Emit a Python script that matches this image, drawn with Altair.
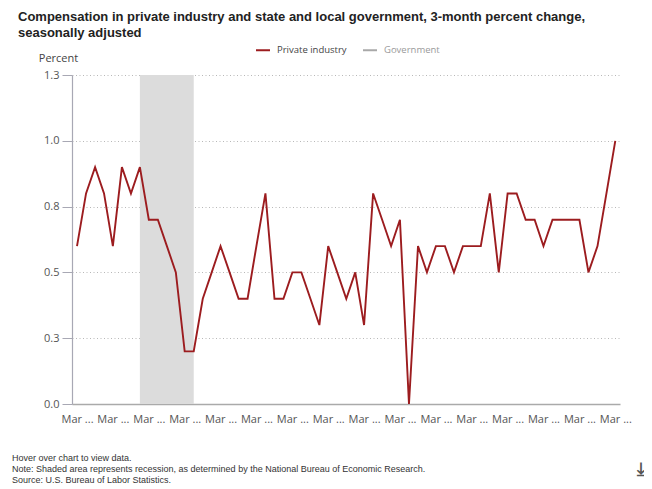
import altair as alt
import pandas as pd

# ---- data ---------------------------------------------------------------
years = list(range(2006, 2022))
quarter_months = ["03", "06", "09", "12"]
periods = [f"{y}-{m}-01" for y in years for m in quarter_months][:61]

private_industry = [
    0.6, 0.8, 0.9, 0.8, 0.6, 0.9, 0.8, 0.9, 0.7, 0.7,
    0.6, 0.5, 0.2, 0.2, 0.4, 0.5, 0.6, 0.5, 0.4, 0.4,
    0.6, 0.8, 0.4, 0.4, 0.5, 0.5, 0.4, 0.3, 0.6, 0.5,
    0.4, 0.5, 0.3, 0.8, 0.7, 0.6, 0.7, 0.0, 0.6, 0.5,
    0.6, 0.6, 0.5, 0.6, 0.6, 0.6, 0.8, 0.5, 0.8, 0.8,
    0.7, 0.7, 0.6, 0.7, 0.7, 0.7, 0.7, 0.5, 0.6, 0.8,
    1.0,
]
series_names = ["Private industry", "Government"]
series_colors = ["#9c1c1f", "#a8a8a8"]

recession_start = ["2007-12-01"]
recession_end = ["2009-06-01"]

y_ticks = [0, 0.25, 0.5, 0.75, 1.0, 1.25]
label_years = list(range(2006, 2022))

title_lines = [
    "Compensation in private industry and state and local government, 3-month percent change,",
    "seasonally adjusted",
]
footer_lines = [
    "Hover over chart to view data.",
    "Note: Shaded area represents recession, as determined by the National Bureau of Economic Research.",
    "Source: U.S. Bureau of Labor Statistics.",
]

# ---- tables -------------------------------------------------------------
df = pd.DataFrame({
    "date": periods,
    "value": private_industry,
    "series": ["Private industry"] * len(periods),
})
rec = pd.DataFrame({"start": recession_start, "end": recession_end})
one = pd.DataFrame({"k": [0]})

W, H = 548, 329
FONT = "Open Sans"

x_scale = alt.Scale(
    type="utc",
    domain=[
        alt.DateTime(year=2006, month=1, date=9, utc=True),
        alt.DateTime(year=2021, month=4, date=18, utc=True),
    ],
)

x_axis = alt.Axis(
    values=[alt.DateTime(year=y, month=3, date=1, utc=True) for y in label_years],
    labelExpr="utcFormat(datum.value, '%b') + ' ...'",
    title=None,
    ticks=False,
    grid=False,
    domainColor="#aaaaaa",
    domainWidth=1.5,
    labelFont=FONT,
    labelFontSize=11,
    labelColor="#555555",
    labelPadding=9,
    labelOverlap=False,
)

y_axis = alt.Axis(
    values=y_ticks,
    format=".1f",
    title="Percent",
    titleAngle=0,
    titleX=-14,
    titleY=-17,
    titleAlign="center",
    titleBaseline="middle",
    titleFont=FONT,
    titleFontSize=11,
    titleFontWeight="normal",
    titleColor="#444444",
    grid=True,
    gridColor="#b8b8b8",
    gridDash=[1, 2.5],
    domainColor="#a8a8b4",
    domainWidth=1.2,
    tickColor="#a8a8b4",
    tickSize=10,
    labelPadding=3,
    labelFont=FONT,
    labelFontSize=11,
    labelColor="#555555",
)

band = alt.Chart(rec).mark_rect(color="#dcdcdc").encode(
    x=alt.X("start:T", scale=x_scale, axis=x_axis),
    x2="end:T",
    y=alt.value(0),
    y2=alt.value(H),
)

line = alt.Chart(df).mark_line(strokeWidth=1.9).encode(
    x=alt.X("date:T", scale=x_scale, axis=x_axis),
    y=alt.Y("value:Q", scale=alt.Scale(domain=[0, 1.25], nice=False), axis=y_axis),
    color=alt.Color(
        "series:N",
        scale=alt.Scale(domain=series_names, range=series_colors),
        legend=alt.Legend(
            title=None,
            orient="none",
            direction="horizontal",
            legendX=183,
            legendY=-33,
            symbolType="stroke",
            symbolSize=196,
            symbolStrokeWidth=2,
            labelFont=FONT,
            labelFontSize=9.5,
            labelOffset=6,
            columnPadding=12,
            padding=0,
            labelColor={"expr": "datum.label == 'Government' ? '#9a9a9a' : '#444444'"},
        ),
    ),
)

title = alt.Chart(one).mark_text(
    text=title_lines,
    lineHeight=16,
    align="left",
    baseline="alphabetic",
    font="Liberation Sans",
    fontSize=13,
    fontWeight="bold",
    color="#222222",
).encode(x=alt.value(-54), y=alt.value(-54.5))

footer = alt.Chart(one).mark_text(
    text=footer_lines,
    lineHeight=11,
    align="left",
    baseline="middle",
    font="Liberation Sans",
    fontSize=9,
    color="#333333",
).encode(x=alt.value(-60), y=alt.value(H + 54))

icon = alt.Chart(one).mark_text(
    text="\u2913",
    align="center",
    baseline="middle",
    font="DejaVu Sans",
    fontSize=18,
    fontWeight="bold",
    color="#555555",
).encode(x=alt.value(569), y=alt.value(H + 66))

chart = alt.layer(band, line, title, footer, icon).properties(
    width=W,
    height=H,
    autosize=alt.AutoSizeParams(type="none"),
    padding={"left": 64, "top": 67, "right": 24, "bottom": 85},
    background="white",
).configure_view(stroke=None)

chart.save("out.html", embed_options={"renderer": "svg", "actions": False})
